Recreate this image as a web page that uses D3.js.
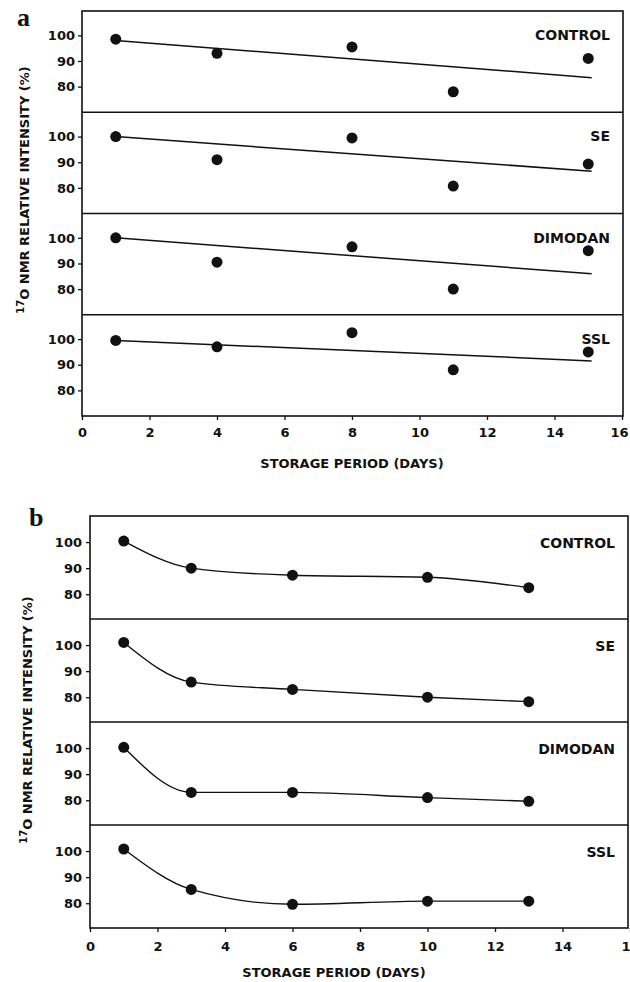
<!DOCTYPE html>
<html>
<head>
<meta charset="utf-8">
<script src="https://cdn.jsdelivr.net/npm/d3@7"></script>
<style>
  html, body { margin: 0; padding: 0; background: #fff; }
  svg { display: block; }
  .tick text { font-family: 'DejaVu Sans', sans-serif; font-weight: bold; font-size: 13px; fill: #111; }
  .tick line { stroke: #111; stroke-width: 1.3px; }
</style>
</head>
<body>
<div id="chart"></div>
<script>
// ---- data ----
const seriesNames = ['CONTROL', 'SE', 'DIMODAN', 'SSL'];

// panel a: storage days and 17O intensity (%)
const daysA = [1, 4, 8, 11, 15];
const controlA = [98.5, 93, 95.5, 78, 91];
const seA = [100, 91, 99.5, 80.7, 89.3];
const dimodanA = [100, 90.5, 96.5, 80, 95];
const sslA = [99.5, 97, 102.5, 88, 95];
// straight fitted lines in panel a (start day / end day, value at each)
const fitDaysA = [1, 15.1];
const fitControlA = [98, 83.5];
const fitSeA = [100, 86.5];
const fitDimodanA = [100, 86];
const fitSslA = [99.5, 91.5];

// panel b
const daysB = [1, 3, 6, 10, 13];
const controlB = [100.4, 90, 87.3, 86.5, 82.5];
const seB = [101, 85.8, 83, 80, 78.3];
const dimodanB = [100.3, 83, 83, 81, 79.6];
const sslB = [100.8, 85.3, 79.6, 80.8, 80.8];

const xTicks = [0, 2, 4, 6, 8, 10, 12, 14, 16];
const yTicks = [80, 90, 100];

const W = 630, H = 982;
const FONT = "'DejaVu Sans', sans-serif";

const svg = d3.select('#chart')
    .append('svg')
    .attr('width', W)
    .attr('height', H)
    .attr('viewBox', `0 0 ${W} ${H}`);

function drawPanel(cfg) {
    const g = svg.append('g');
    const x = d3.scaleLinear().domain([0, 16]).range([cfg.left, cfg.right]);
    const subH = (cfg.bottom - cfg.top) / cfg.series.length;

    cfg.series.forEach((s, i) => {
        const top = cfg.top + i * subH;
        const y = d3.scaleLinear().domain(cfg.yDomain).range([top + subH, top]);

        // y ticks
        g.append('g')
            .attr('transform', `translate(${cfg.left},0)`)
            .call(d3.axisLeft(y)
                .tickValues(yTicks)
                .tickSize(4)
                .tickPadding(cfg.yPad))
            .call(a => a.select('.domain').remove());

        // separator line between sub-panels
        if (i > 0) {
            g.append('line')
                .attr('x1', cfg.left).attr('x2', cfg.frameRight)
                .attr('y1', top).attr('y2', top)
                .attr('stroke', '#111').attr('stroke-width', 1.6);
        }

        // line or curve
        if (s.fit) {
            g.append('path')
                .datum(cfg.fitDays.map((d, k) => [d, s.fit[k]]))
                .attr('fill', 'none')
                .attr('stroke', '#111')
                .attr('stroke-width', 1.5)
                .attr('d', d3.line().x(d => x(d[0])).y(d => y(d[1])));
        } else {
            g.append('path')
                .datum(cfg.days.map((d, k) => [d, s.values[k]]))
                .attr('fill', 'none')
                .attr('stroke', '#111')
                .attr('stroke-width', 1.4)
                .attr('d', d3.line().curve(d3.curveMonotoneX).x(d => x(d[0])).y(d => y(d[1])));
        }

        // dots
        g.selectAll(null)
            .data(cfg.days.map((d, k) => [d, s.values[k]]))
            .join('circle')
            .attr('cx', d => x(d[0]))
            .attr('cy', d => y(d[1]))
            .attr('r', 5.5)
            .attr('fill', '#111');

        // series name
        g.append('text')
            .attr('x', cfg.frameRight - 13)
            .attr('y', top + cfg.labelDy)
            .attr('text-anchor', 'end')
            .style('font-family', FONT)
            .style('font-weight', 'bold')
            .style('font-size', '14px')
            .style('fill', '#111')
            .text(s.name);
    });

    // outer frame
    g.append('rect')
        .attr('x', cfg.left).attr('y', cfg.top)
        .attr('width', cfg.frameRight - cfg.left)
        .attr('height', cfg.bottom - cfg.top)
        .attr('fill', 'none')
        .attr('stroke', '#111')
        .attr('stroke-width', 1.6);

    // x axis
    g.append('g')
        .attr('transform', `translate(0,${cfg.bottom})`)
        .call(d3.axisBottom(x)
            .tickValues(xTicks)
            .tickSize(4)
            .tickPadding(cfg.xPad))
        .call(a => a.select('.domain').remove())
        .call(a => a.selectAll('.tick:last-of-type text').attr('dx', cfg.lastTickDx));

    // x label
    svg.append('text')
        .attr('x', cfg.xLabelX)
        .attr('y', cfg.xLabelY)
        .attr('text-anchor', 'middle')
        .style('font-family', FONT)
        .style('font-weight', 'bold')
        .style('font-size', '13px')
        .style('fill', '#111')
        .text('STORAGE PERIOD (DAYS)');

    // y label, rotated, with superscript 17
    const yl = svg.append('text')
        .attr('transform', `translate(${cfg.yLabelX},${cfg.yLabelY}) rotate(-90)`)
        .attr('text-anchor', 'middle')
        .style('font-family', FONT)
        .style('font-weight', 'bold')
        .style('font-size', '13px')
        .style('fill', '#111');
    yl.append('tspan').attr('dy', '-5').style('font-size', '10px').text('17');
    yl.append('tspan').attr('dy', '5').text('O NMR RELATIVE INTENSITY (%)');

    // panel letter
    svg.append('text')
        .attr('x', cfg.letterX)
        .attr('y', cfg.letterY)
        .style('font-family', "'Liberation Serif', serif")
        .style('font-weight', 'bold')
        .style('font-size', '26px')
        .style('fill', '#111')
        .text(cfg.letter);
}

drawPanel({
    letter: 'a', letterX: 17, letterY: 26,
    left: 82, right: 622, frameRight: 623, top: 11, bottom: 416,
    yDomain: [70, 109.5], yPad: 3, xPad: 8, labelDy: 29, lastTickDx: -3,
    xLabelX: 352, xLabelY: 468, yLabelX: 29, yLabelY: 190,
    days: daysA, fitDays: fitDaysA,
    series: [
        { name: seriesNames[0], values: controlA, fit: fitControlA },
        { name: seriesNames[1], values: seA, fit: fitSeA },
        { name: seriesNames[2], values: dimodanA, fit: fitDimodanA },
        { name: seriesNames[3], values: sslA, fit: fitSslA }
    ]
});

drawPanel({
    letter: 'b', letterX: 29, letterY: 526,
    left: 90, right: 630, frameRight: 628, top: 516, bottom: 928,
    yDomain: [70.5, 110], yPad: 4, xPad: 10, labelDy: 32, lastTickDx: 0,
    xLabelX: 334, xLabelY: 977, yLabelX: 32, yLabelY: 720,
    days: daysB,
    series: [
        { name: seriesNames[0], values: controlB },
        { name: seriesNames[1], values: seB },
        { name: seriesNames[2], values: dimodanB },
        { name: seriesNames[3], values: sslB }
    ]
});
</script>
</body>
</html>
